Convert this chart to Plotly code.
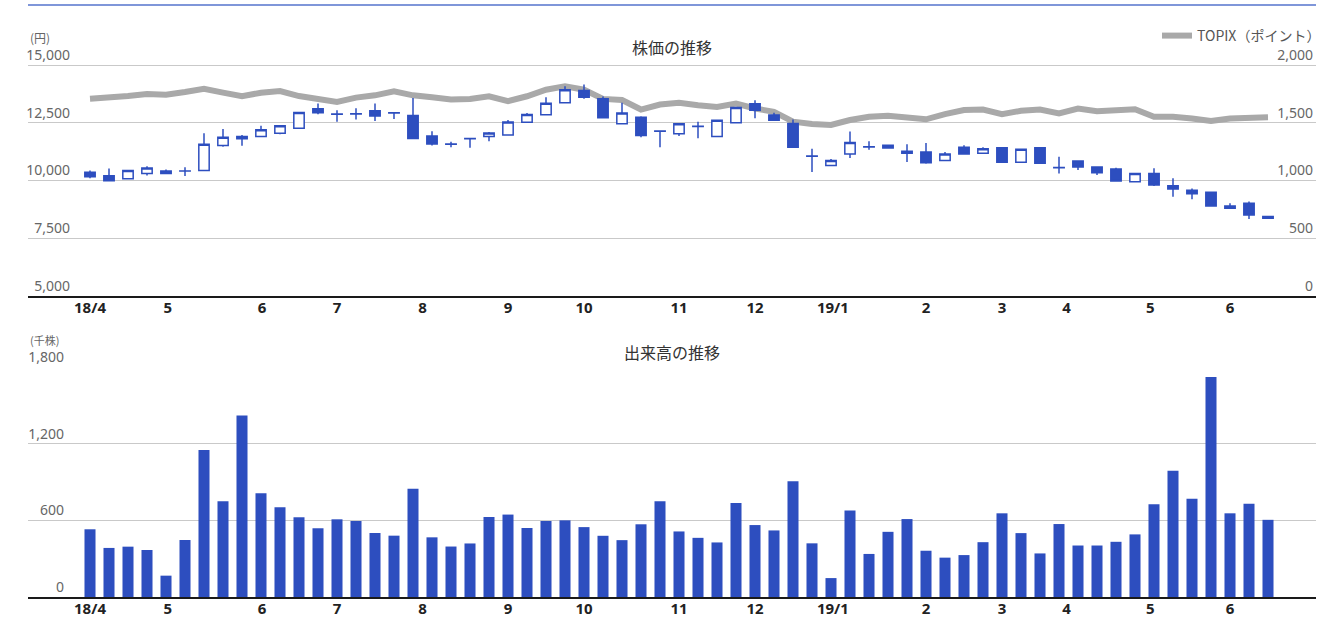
import plotly.graph_objects as go

# ---- data ----
week = list(range(63))

open_ = [10350, 10200, 10070, 10300, 10400, 10400, 10430, 11510, 11900, 11900,
         12040, 12260, 13100, 12860, 12880, 13020, 12920, 12810, 11920, 11570,
         11800, 11900, 11970, 12520, 12840, 13360, 13890, 13540, 12450, 12740,
         12130, 12020, 12330, 11900, 12500, 13320, 12830, 12460, 11050, 10640,
         11140, 11450, 11520, 11260, 11230, 10860, 11440, 11170, 11410, 10780,
         11410, 10550, 10840, 10580, 10490, 9940, 10300, 9770, 9570, 9480,
         8790, 9010, 8430]
high = [10430, 10510, 10440, 10610, 10470, 10570, 12040, 12230, 11970, 12370,
        12380, 12950, 13330, 13040, 13120, 13330, 12930, 13570, 12130, 11670,
        11810, 12100, 12620, 12920, 13600, 14080, 14150, 13640, 13360, 12780,
        12140, 12450, 12540, 12620, 13160, 13470, 12930, 12640, 11370, 10930,
        12120, 11690, 11530, 11570, 11620, 11230, 11520, 11430, 11420, 11360,
        11420, 11020, 10850, 10590, 10550, 10310, 10520, 10090, 9650, 9510,
        9010, 9080, 8450]
low = [10090, 9960, 10060, 10210, 10270, 10190, 10420, 11460, 11500, 11890,
       12000, 12250, 12860, 12540, 12640, 12570, 12660, 11800, 11510, 11440,
       11410, 11700, 11960, 12490, 12830, 13350, 13540, 12700, 12440, 11870,
       11440, 11920, 11830, 11890, 12470, 12690, 12590, 11430, 10360, 10630,
       10970, 11330, 11380, 10800, 10720, 10850, 11140, 11160, 10770, 10770,
       10730, 10300, 10450, 10230, 9940, 9930, 9760, 9290, 9180, 8880,
       8780, 8320, 8340]
close = [10160, 9980, 10430, 10530, 10300, 10410, 11570, 11870, 11800, 12190,
         12370, 12940, 12930, 12880, 12890, 12790, 12930, 11810, 11580, 11580,
         11810, 12050, 12530, 12850, 13340, 13930, 13600, 12710, 12920, 11940,
         12140, 12450, 12340, 12610, 13160, 13040, 12600, 11430, 11060, 10860,
         11640, 11460, 11400, 11170, 10760, 11140, 11140, 11370, 10780, 11350,
         10740, 10560, 10580, 10330, 9970, 10300, 9800, 9630, 9420, 8890,
         8890, 8500, 8360]

topix = [1708, 1717, 1731, 1749, 1743, 1766, 1794, 1760, 1729, 1760,
         1774, 1731, 1708, 1680, 1717, 1737, 1772, 1737, 1720, 1700,
         1706, 1729, 1686, 1729, 1786, 1815, 1786, 1706, 1697, 1614,
         1657, 1672, 1651, 1637, 1666, 1623, 1594, 1509, 1489, 1480,
         1523, 1551, 1560, 1551, 1529, 1574, 1609, 1614, 1574, 1603,
         1614, 1580, 1623, 1600, 1614, 1617, 1551, 1551, 1537, 1514,
         1537, 1546, 1546]

volume = [530, 384, 394, 368, 167, 446, 1151, 749, 1420, 812,
          702, 624, 538, 608, 595, 501, 480, 848, 467, 395,
          419, 626, 645, 540, 595, 600, 547, 479, 445, 569,
          750, 513, 463, 427, 735, 563, 521, 906, 420, 148,
          677, 337, 510, 610, 362, 308, 328, 429, 655, 500,
          341, 571, 403, 403, 432, 490, 725, 989, 769, 1722,
          655, 730, 604]

month_pos = [0, 4.1, 9.05, 13, 17.5, 22, 26, 31, 35, 39.1, 44, 48, 51.4, 55.8, 60]
month_labels = ["18/4", "5", "6", "7", "8", "9", "10", "11", "12", "19/1",
                "2", "3", "4", "5", "6"]

price_ticks = [5000, 7500, 10000, 12500, 15000]
topix_ticks = [0, 500, 1000, 1500, 2000]
volume_ticks = [0, 600, 1200, 1800]

# ---- style ----
W, H = 1320, 619
ML, MR = 28, 4
PW = W - ML - MR
BLUE = "#2d4ebf"
GRID = "#c9c9c9"
LABEL = "#666666"
JP = "Noto Sans CJK JP"

def py(px):
    return 1 - px / H

def pxx(px):
    return (px - ML) / PW

xr = [(ML - 90) / 19, (W - MR - 90) / 19]

# top panel: bottom edge (5,000 / 0) at px 295.7, top gridline (15,000 / 2,000) at px 65;
# plot area extends a bit higher so that the top inside labels stay visible
TOP_BOT, TOP_GRID, TOP_EDGE = 295.7, 65.0, 40.0
ext = (TOP_BOT - TOP_EDGE) / (TOP_BOT - TOP_GRID)
price_range = [5000, 5000 + 10000 * ext]
topix_range = [0, 2000 * ext]

fig = go.Figure()

fig.add_trace(go.Scatter(
    x=week, y=topix, mode="lines", name="TOPIX（ポイント）",
    line=dict(color="#a9a9a9", width=6), xaxis="x", yaxis="y",
    hoverinfo="skip", showlegend=True))

fig.add_trace(go.Candlestick(
    x=week, open=open_, high=high, low=low, close=close,
    xaxis="x", yaxis="y2", showlegend=False,
    increasing=dict(line=dict(color=BLUE, width=1.5), fillcolor="white"),
    decreasing=dict(line=dict(color=BLUE, width=1.5), fillcolor=BLUE)))

fig.add_trace(go.Bar(
    x=week, y=volume, xaxis="x2", yaxis="y3", marker=dict(color=BLUE, line=dict(width=0)),
    showlegend=False))

xcommon = dict(range=xr, tickvals=month_pos, ticktext=month_labels, showgrid=False,
               zeroline=False, showline=True, linecolor="#1a1a1a", linewidth=2,
               ticks="", ticklabelstandoff=-3,
               tickfont=dict(family="Noto Sans", size=15, color="#222222", weight="bold"),
               domain=[0, 1], fixedrange=True, automargin=False)

fig.update_layout(
    width=W, height=H,
    margin=dict(l=ML, r=MR, t=0, b=0, autoexpand=False),
    paper_bgcolor="white", plot_bgcolor="white",
    font=dict(family="Noto Sans, " + JP, color=LABEL),
    boxgap=0.3, boxgroupgap=0.22, bargap=0.42,
    xaxis=dict(anchor="y", rangeslider=dict(visible=False), **xcommon),
    xaxis2=dict(anchor="y3", **xcommon),
    yaxis=dict(domain=[py(TOP_BOT), py(TOP_EDGE)], anchor="x", side="right",
               range=topix_range, tickvals=topix_ticks, tickformat=",",
               showgrid=True, gridcolor=GRID, gridwidth=1, zeroline=False,
               ticks="", ticklabelposition="inside top", automargin=False,
               tickfont=dict(size=14, color=LABEL)),
    yaxis2=dict(overlaying="y", anchor="free", position=pxx(70), side="left",
                range=price_range, tickvals=price_ticks, tickformat=",",
                showgrid=False, zeroline=False, ticks="", automargin=False,
                ticklabelposition="outside top",
                tickfont=dict(size=14, color=LABEL)),
    yaxis3=dict(domain=[py(597), py(367)], anchor="free", position=pxx(64),
                side="left", range=[0, 1800], tickvals=volume_ticks, tickformat=",",
                showgrid=True, gridcolor=GRID, gridwidth=1, zeroline=False,
                ticks="", ticklabelposition="outside top", automargin=False,
                tickfont=dict(size=14, color=LABEL)),
    legend=dict(x=1 + 10 / PW, xanchor="right", y=py(36), yanchor="middle",
                bgcolor="rgba(0,0,0,0)", font=dict(size=14, color="#555555", family=JP),
                itemwidth=30),
    showlegend=True,
)

fig.add_annotation(text="株価の推移", xref="paper", yref="paper", x=0.5, y=py(47),
                   xanchor="center", yanchor="middle",
                   showarrow=False, font=dict(size=16, color="#333333", family=JP))
fig.add_annotation(text="出来高の推移", xref="paper", yref="paper", x=0.5, y=py(352),
                   xanchor="center", yanchor="middle",
                   showarrow=False, font=dict(size=16, color="#333333", family=JP))
fig.add_annotation(text="(円)", xref="paper", yref="paper", x=0, y=py(37),
                   xanchor="left", yanchor="middle",
                   showarrow=False, font=dict(size=12, color=LABEL, family=JP))
fig.add_annotation(text="(千株)", xref="paper", yref="paper", x=0, y=py(340),
                   xanchor="left", yanchor="middle",
                   showarrow=False, font=dict(size=11, color=LABEL, family=JP))

fig.add_shape(type="line", xref="paper", yref="paper", x0=0, x1=1, y0=py(5), y1=py(5),
              line=dict(color="#5573cc", width=1.5))

fig.write_html("out.html")
